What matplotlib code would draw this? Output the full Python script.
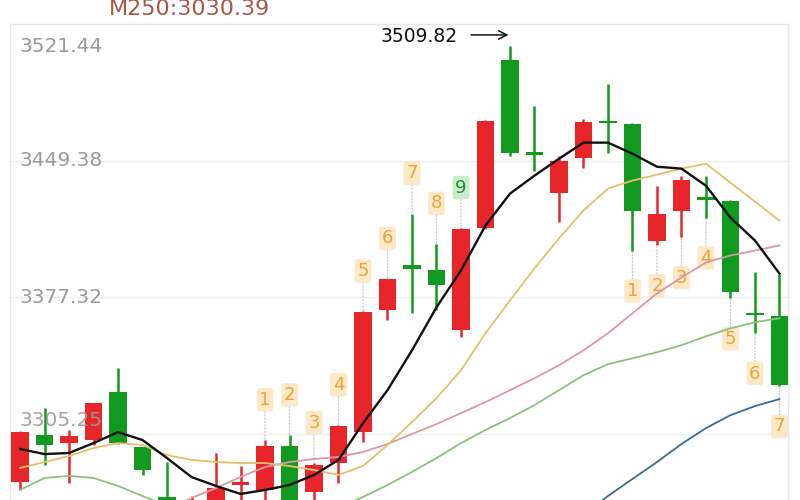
import numpy as np
import matplotlib
matplotlib.use('Agg')
import matplotlib.pyplot as plt
import matplotlib.transforms as mtransforms

# daily candles, left to right
opens  = [3280.0, 3304.7, 3300.5, 3302.1, 3327.3, 3298.4, 3272.1, 3262.0, 3262.0, 3278.5,
          3275.8, 3298.9, 3274.7, 3290.0, 3306.3, 3370.5, 3394.2, 3392.0, 3360.0, 3414.1,
          3502.5, 3453.6, 3432.6, 3451.0, 3470.2, 3468.8, 3407.3, 3422.6, 3429.9, 3428.3,
          3368.9, 3367.3]
highs  = [3306.8, 3318.9, 3307.4, 3321.8, 3340.0, 3298.6, 3290.5, 3272.6, 3295.3, 3288.4,
          3302.1, 3304.7, 3290.0, 3310.0, 3370.0, 3387.2, 3421.5, 3405.7, 3414.0, 3470.8,
          3509.82, 3478.3, 3452.0, 3471.5, 3489.9, 3469.4, 3436.2, 3441.5, 3441.5, 3428.8,
          3390.5, 3389.9]
lows   = [3275.8, 3288.9, 3279.5, 3299.5, 3300.0, 3283.7, 3260.0, 3258.0, 3258.0, 3265.0,
          3270.0, 3265.0, 3268.0, 3279.5, 3301.0, 3365.2, 3368.9, 3370.5, 3356.3, 3413.6,
          3452.0, 3444.1, 3416.8, 3445.7, 3453.6, 3402.0, 3404.7, 3408.9, 3419.4, 3376.8,
          3358.4, 3330.5]
closes = [3306.3, 3299.5, 3304.2, 3321.6, 3300.5, 3286.3, 3265.0, 3266.0, 3276.8, 3279.2,
          3298.9, 3268.0, 3288.9, 3309.5, 3369.4, 3386.8, 3392.2, 3383.6, 3413.6, 3470.4,
          3453.6, 3452.6, 3449.4, 3469.9, 3469.0, 3422.6, 3421.5, 3439.4, 3428.9, 3379.9,
          3367.9, 3331.0]

nan = np.nan
ma5  = [3297.4, 3294.7, 3295.3, 3300.5, 3306.3, 3302.1, 3292.6, 3282.6, 3277.9, 3273.7,
        3275.8, 3278.4, 3283.7, 3291.6, 3311.0, 3328.4, 3349.4, 3372.1, 3391.5, 3415.2,
        3432.0, 3441.5, 3450.4, 3458.9, 3458.9, 3453.1, 3446.2, 3445.2, 3436.2, 3419.4,
        3407.3, 3389.9]
ma10 = [3287.4, 3290.5, 3293.7, 3297.9, 3300.5, 3299.5, 3294.2, 3291.6, 3290.5, 3290.0,
        3290.0, 3288.4, 3286.3, 3283.7, 3288.4, 3299.5, 3311.6, 3324.2, 3338.9, 3358.4,
        3375.7, 3392.6, 3408.4, 3423.1, 3434.7, 3438.9, 3442.0, 3445.2, 3447.8, 3437.8,
        3427.8, 3417.8]
ma20 = [nan, nan, nan, nan, nan, nan, 3265.3, 3271.6, 3276.8, 3282.6,
        3287.9, 3290.5, 3292.1, 3293.2, 3295.8, 3300.0, 3305.3, 3310.5, 3316.3, 3322.1,
        3328.4, 3334.7, 3341.5, 3349.4, 3358.4, 3368.9, 3379.4, 3387.8, 3395.7, 3399.4,
        3402.0, 3404.7]
ma30 = [3275.8, 3282.1, 3283.2, 3282.1, 3277.9, 3272.6, 3267.4, 3264.2, 3262.6, 3261.6,
        3261.1, 3261.6, 3263.2, 3266.3, 3272.1, 3278.4, 3285.3, 3292.6, 3300.5, 3307.4,
        3313.7, 3320.5, 3328.4, 3336.3, 3342.1, 3345.2, 3348.4, 3352.1, 3356.8, 3361.0,
        3364.2, 3366.3]
ma60 = [nan] * 23 + [3262.6, 3272.6, 3281.6, 3290.5, 3300.0, 3308.4, 3315.2, 3320.0, 3323.7]

# TD counts: (candle index, number)
top_counts = [(10, 1), (11, 2), (12, 3), (13, 4), (14, 5), (15, 6), (16, 7), (17, 8), (18, 9)]
bottom_counts = [(25, 1), (26, 2), (27, 3), (28, 4), (29, 5), (30, 6), (31, 7)]

yticks = [3521.44, 3449.38, 3377.32, 3305.25]
title_text = 'M250:3030.39'

RED = '#e8262a'
GREEN = '#12991f'

fig = plt.figure(figsize=(8, 5), dpi=100)
ax = fig.add_axes([10 / 800, 0, 778 / 800, 476 / 500])

x = np.arange(len(opens))
o = np.array(opens)
c = np.array(closes)
colors = [RED if cc >= oo else GREEN for oo, cc in zip(o, c)]
bottoms = np.minimum(o, c)
heights = np.maximum(np.abs(c - o), 1.4)

ax.vlines(x, lows, highs, colors=colors, lw=1.8, zorder=2)
ax.bar(x, heights, bottom=bottoms, width=0.7, color=colors, zorder=3)

ax.plot(x, ma60, color='#3d6b8a', lw=1.3, zorder=4)
ax.plot(x, ma30, color='#8fc07e', lw=1.3, zorder=4)
ax.plot(x, ma20, color='#d99aa6', lw=1.3, zorder=4)
ax.plot(x, ma10, color='#e2c06c', lw=1.3, zorder=4)
ax.plot(x, ma5, color='#111111', lw=1.7, zorder=5)

# count labels
for i, n in top_counts:
    fc, tc = ('#c6eac6', '#1e8f2e') if n == 9 else ('#fde6c2', '#eba43a')
    ax.annotate(str(n), xy=(i, highs[i]), xytext=(0, 29), textcoords='offset points',
                ha='center', va='center', fontsize=13, color=tc, zorder=1,
                bbox=dict(boxstyle='round,pad=0.15', fc=fc, ec='none', alpha=0.9),
                arrowprops=dict(arrowstyle='-', ls=':', color='#c8c8c8', lw=0.9,
                                shrinkA=0, shrinkB=0))
for i, n in bottom_counts:
    ax.annotate(str(n), xy=(i, lows[i]), xytext=(0, -29), textcoords='offset points',
                ha='center', va='center', fontsize=13, color='#eba43a', zorder=1,
                bbox=dict(boxstyle='round,pad=0.15', fc='#fde6c2', ec='none', alpha=0.9),
                arrowprops=dict(arrowstyle='-', ls=':', color='#c8c8c8', lw=0.9,
                                shrinkA=0, shrinkB=0))

# highest point marker
hi = int(np.argmax(highs))
up = ax.transData + mtransforms.ScaledTranslation(0, 8 / 72, fig.dpi_scale_trans)
ax.annotate('', xy=(hi, highs[hi]), xycoords=up, xytext=(-28, 0), textcoords='offset points',
            arrowprops=dict(arrowstyle='->,head_width=0.3,head_length=0.6', color='#111111',
                            lw=1.1, shrinkA=0, shrinkB=1))
ax.annotate('%.2f' % highs[hi], xy=(hi, highs[hi]), xycoords=up, xytext=(-38, -1),
            textcoords='offset points', ha='right', va='center', fontsize=13.5, color='#111111')

ax.set_xlim(-0.41, 31.35)
ax.set_ylim(3270.5, 3521.44)

for v in yticks[1:]:
    ax.axhline(v, color='#efefef', lw=1.0, zorder=0)

lab = mtransforms.blended_transform_factory(ax.transAxes, ax.transData)
ax.text(0.012, yticks[0], '%.2f' % yticks[0], transform=lab + mtransforms.ScaledTranslation(0, -9 / 72, fig.dpi_scale_trans),
        ha='left', va='top', fontsize=14.5, color='#9a9a9a')
ax.text(0.012, yticks[1], '%.2f' % yticks[1], transform=lab, ha='left', va='center',
        fontsize=14.5, color='#9a9a9a')
ax.text(0.012, yticks[2], '%.2f' % yticks[2], transform=lab, ha='left', va='center',
        fontsize=14.5, color='#9a9a9a')
ax.text(0.012, yticks[3], '%.2f' % yticks[3], transform=lab + mtransforms.ScaledTranslation(0, 3 / 72, fig.dpi_scale_trans),
        ha='left', va='bottom', fontsize=14.5, color='#9a9a9a', alpha=0.9, zorder=6)

ax.set_xticks([])
ax.set_yticks([])
for s in ['left', 'right', 'top']:
    ax.spines[s].set_color('#e6e6e6')
    ax.spines[s].set_linewidth(1.0)
ax.spines['bottom'].set_visible(False)

# legend line at the top, partly cut by the figure edge as in the source
fig.text(109 / 800, 1 - 15 / 500, title_text, ha='left', va='baseline', fontsize=16,
         color='#a85646')

fig.savefig('out.png', dpi=100)
